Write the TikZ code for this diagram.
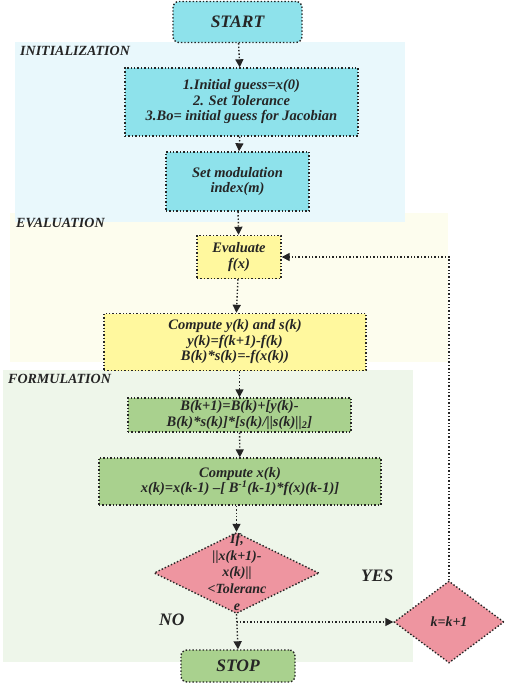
\documentclass[tikz,border=0pt]{standalone}
\usepackage{fontspec}
\setmainfont{Liberation Serif}
\usetikzlibrary{shapes.geometric,arrows.meta}
\definecolor{bgblue}{HTML}{E9F8FC}
\definecolor{bgyellow}{HTML}{FDFDEE}
\definecolor{bggreen}{HTML}{EEF6EA}
\definecolor{cyanf}{HTML}{8EE2EB}
\definecolor{yellowf}{HTML}{FFF89E}
\definecolor{greenf}{HTML}{A9D18E}
\definecolor{pinkf}{HTML}{EE95A0}
\definecolor{ink}{HTML}{252525}
\tikzset{
  boxst/.style={draw=ink, dotted, line width=1.4pt, align=center, inner sep=0pt, text=ink,
    font=\bfseries\itshape\fontsize{14.5}{15.5}\selectfont},
  termst/.style={boxst, rounded corners=6pt, font=\bfseries\itshape\fontsize{17.5}{20}\selectfont},
  diast/.style={diamond, draw=ink, dotted, line width=1.4pt, inner sep=0pt, fill=pinkf},
  dtext/.style={align=center, text=ink, inner sep=0pt, font=\bfseries\itshape\fontsize{14}{16.7}\selectfont},
  sect/.style={anchor=west, text=ink, inner sep=0pt, font=\bfseries\itshape\fontsize{14}{16}\selectfont},
  yn/.style={anchor=west, text=ink, inner sep=0pt, font=\bfseries\itshape\fontsize{17.5}{20}\selectfont},
  arr/.style={draw=ink, dotted, line width=1.4pt, -{Triangle[width=8pt,length=8pt]}},
}
\begin{document}
\begin{tikzpicture}[x=1pt,y=-1pt]
\useasboundingbox (0,0) rectangle (505,685);
% backgrounds
\fill[bgyellow] (10,213) rectangle (448,362);
\fill[bgblue] (15,42) rectangle (405,222);
\fill[bggreen] (3,370) rectangle (413,662);
\node[sect] (linit) at (20,51) {INITIALIZATION};
\node[sect] (leval) at (16,223) {EVALUATION};
\node[sect] (lform) at (8,379) {FORMULATION};
% nodes
\node[termst, fill=cyanf, minimum width=129pt, minimum height=41pt] (start) at (237.5,22) {START};
\node[boxst, fill=cyanf, minimum width=233pt, minimum height=68pt] (init) at (241.5,102)
  {1.Initial guess=x(0)\\2. Set Tolerance\\3.Bo= initial guess for Jacobian};
\node[boxst, fill=cyanf, minimum width=143pt, minimum height=59pt] (mod) at (237.5,181.5)
  {Set modulation\\index(m)};
\node[boxst, fill=yellowf, minimum width=84pt, minimum height=43pt] (eval) at (239,257)
  {Evaluate\\f(x)};
\node[boxst, fill=yellowf, minimum width=262pt, minimum height=57pt] (comp) at (235,342)
  {Compute y(k) and s(k)\\y(k)=f(k+1)-f(k)\\B(k)*s(k)=-f(x(k))};
\node[boxst, fill=greenf, minimum width=223pt, minimum height=34pt] (upd) at (239.5,415)
  {B(k+1)=B(k)+[y(k)-\\B(k)*s(k)]*[s(k)/||s(k)||\textsubscript{2}]};
\node[boxst, fill=greenf, minimum width=282pt, minimum height=47pt] (cx) at (240,481.5)
  {Compute x(k)\\x(k)=x(k-1) –[ B\textsuperscript{-1}(k-1)*f(x)(k-1)]};
\node[diast, minimum width=165pt, minimum height=81pt] (ifd) at (236.5,573) {};
\node[dtext] (ift) at (237,572) {If,\\||x(k+1)-\\x(k)||\\<Toleranc\\e};
\node[diast, minimum width=110pt, minimum height=82pt] (kd) at (449,622) {};
\node[dtext] (kt) at (449,622) {k=k+1};
\node[termst, fill=greenf, minimum width=114pt, minimum height=32pt] (stop) at (238,666) {STOP};
\node[yn] (yes) at (361,576) {YES};
\node[yn] (no) at (159,620) {NO};
% connectors
\draw[arr] (start) -- (init);
\draw[arr] (init) -- (mod);
\draw[arr] (mod) -- (eval);
\draw[arr] (eval) -- (comp);
\draw[arr] (comp.south -| upd.north) -- (upd);
\draw[arr] (upd) -- (cx);
\draw[arr] (cx.south -| ifd.north) -- (ifd);
\draw[arr] (ifd.south) -- (stop.north);
\coordinate (br) at (ifd.south |- kd.west);
\draw[arr] (br) -- (kd.west);
\draw[arr] (kd.north) |- (eval.east);
\end{tikzpicture}
\end{document}
